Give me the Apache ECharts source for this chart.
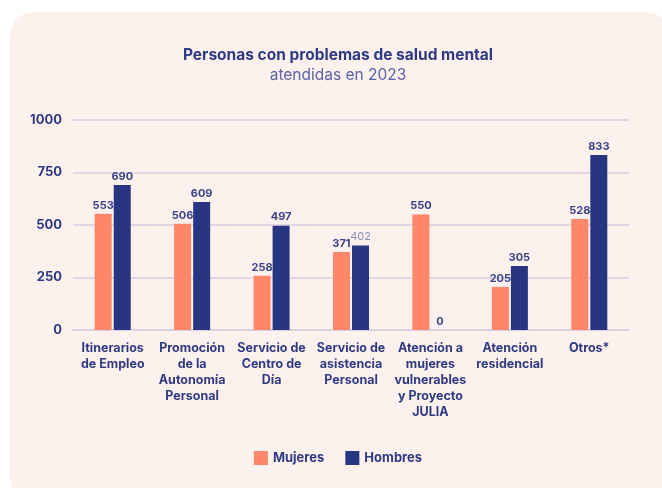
<!DOCTYPE html>
<html>
<head>
<meta charset="utf-8">
<script src="https://cdn.jsdelivr.net/npm/echarts@6/dist/echarts.min.js"></script>
<style>
	html, body { margin: 0; padding: 0; background: #ffffff; overflow: hidden; }
	#card {
		position: absolute; left: 10px; top: 12px; width: 660px; height: 490px;
		background: #fdf1ee; border-radius: 24px;
	}
	/* un poco mas ancho que la ventana para centrar en la tarjeta */
	#main { position: absolute; left: 0; top: 0; width: 676px; height: 488px; }
</style>
</head>
<body>
<div id="card"></div>
<div id="main"></div>
<script>
var categories = [
	'Itinerarios\nde Empleo',
	'Promoción\nde la\nAutonomía\nPersonal',
	'Servicio de\nCentro de\nDía',
	'Servicio de\nasistencia\nPersonal',
	'Atención a\nmujeres\nvulnerables\ny Proyecto\nJULIA',
	'Atención\nresidencial',
	'Otros*'
];
var mujeres = [553, 506, 258, 371, 550, 205, 528];
var hombres = [690, 609, 497, 402, 0, 305, 833];
var yTicks = [0, 250, 500, 750, 1000];

var navy = '#2e3a82';
var font = 'Inter';

function initChart() {
	var myChart = echarts.init(document.getElementById('main'), null, { renderer: 'canvas' });
	var option = {
		backgroundColor: 'transparent',
		textStyle: { fontFamily: font },
		title: {
			text: 'Personas con problemas de salud mental',
			subtext: 'atendidas en 2023',
			left: 'center',
			top: 42,
			itemGap: 4,
			textStyle: { fontFamily: font, fontSize: 15.5, fontWeight: 'bold', color: navy },
			subtextStyle: { fontFamily: font, fontSize: 15.5, fontWeight: 'normal', color: '#5a62a8' }
		},
		legend: {
			data: ['Mujeres', 'Hombres'],
			left: 'center',
			top: 446,
			icon: 'rect',
			itemWidth: 14,
			itemHeight: 14,
			itemGap: 21,
			textStyle: { fontFamily: font, fontSize: 13, fontWeight: 'bold', color: navy }
		},
		grid: { left: 73, right: 47, top: 120, bottom: 158, containLabel: false },
		xAxis: {
			type: 'category',
			data: categories,
			axisTick: { show: false },
			axisLine: { lineStyle: { color: '#d6cde0', width: 1.5 } },
			axisLabel: {
				interval: 0,
				margin: 10,
				fontFamily: font,
				fontSize: 12.5,
				fontWeight: 'bold',
				lineHeight: 16,
				color: navy
			}
		},
		yAxis: {
			type: 'value',
			min: yTicks[0],
			max: yTicks[yTicks.length - 1],
			interval: 250,
			axisLine: { show: false },
			axisTick: { show: false },
			splitLine: { lineStyle: { color: '#d6cde0', width: 1.5 } },
			axisLabel: {
				margin: 11,
				fontFamily: font,
				fontSize: 13,
				fontWeight: 'bold',
				color: navy,
				formatter: function (v) { return String(v); }
			}
		},
		series: [
			{
				name: 'Mujeres',
				type: 'bar',
				data: mujeres,
				barWidth: 17,
				barGap: '12%',
				itemStyle: { color: '#ff8769' },
				label: {
					show: true, position: 'top', distance: 3,
					fontFamily: font, fontSize: 11, fontWeight: 'bold', color: '#3a4488'
				}
			},
			{
				name: 'Hombres',
				type: 'bar',
				data: hombres.map(function (v, i) {
					// la etiqueta de 402 sale en gris claro
					if (i == 3) {
						return { value: v, label: { color: '#8a90bc', fontWeight: 'normal' } };
					}
					return v;
				}),
				barWidth: 17,
				itemStyle: { color: '#283580' },
				label: {
					show: true, position: 'top', distance: 3,
					fontFamily: font, fontSize: 11, fontWeight: 'bold', color: '#3a4488'
				}
			}
		]
	};
	myChart.setOption(option);
}
initChart();
</script>
</body>
</html>
